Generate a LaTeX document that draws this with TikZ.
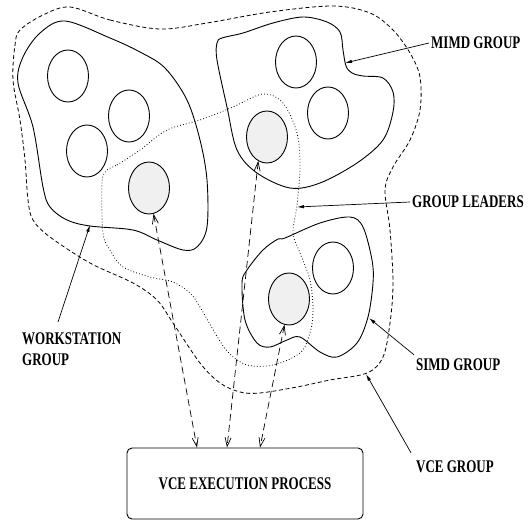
\documentclass[tikz,border=0pt]{standalone}
\usepackage{fontspec}
\newfontfamily\lblfont{Liberation Serif}[FakeStretch=0.73]
\usetikzlibrary{shapes.geometric,arrows.meta}

\tikzset{
  outline/.style={line width=0.9pt},
  vcegroup/.style={line width=0.8pt, dash pattern=on 4pt off 2.6pt},
  leaders/.style={line width=0.8pt, dash pattern=on 0.8pt off 2.2pt},
  proc/.style={ellipse, draw, line width=0.9pt, minimum width=41pt, minimum height=52pt, inner sep=0pt},
  leadproc/.style={proc, fill=gray!12},
  link/.style={line width=0.7pt, dash pattern=on 7pt off 4pt,
    {Straight Barb[length=9pt,width=6pt]}-{Straight Barb[length=9pt,width=6pt]}},
  lblfnt/.style={font=\lblfont\bfseries\fontsize{17.8}{21}\selectfont},
  lbl/.style={lblfnt, inner sep=2pt, anchor=west},
  pointer/.style={line width=0.7pt, -{Latex[length=7pt,width=3.5pt]}},
}

\begin{document}
\begin{tikzpicture}[x=1pt, y=-1pt]
\useasboundingbox (0,0) rectangle (531,522);

% VCE group boundary
\draw[vcegroup] plot[smooth cycle, tension=0.55] coordinates {
  (70,7) (110,20) (160,29) (207,23) (270,12) (333,6) (370,13) (393,30)
  (410,53) (420,77) (420,110) (410,140) (393,167) (385,190) (390,230)
  (393,283) (390,323) (383,357) (367,373) (330,380) (297,387) (260,393)
  (240,392) (220,383) (200,363) (173,323) (157,300) (133,283) (90,263)
  (50,237) (33,220) (28,200) (25,160) (20,120) (13,80) (15,45) (20,30) (43,15)};

% workstation group
\draw[outline] plot[smooth cycle, tension=0.55] coordinates {
  (65,21) (110,38) (140,52) (165,68) (187,100) (200,140) (207,180)
  (207,227) (197,247) (183,250) (157,240) (133,230) (90,226) (67,220)
  (50,207) (43,187) (33,127) (18,83) (23,57) (40,33)};

% MIMD group
\draw[outline] plot[smooth cycle, tension=0.55] coordinates {
  (222,38) (243,33) (273,23) (303,17) (327,22) (340,32) (343,50) (346,66)
  (352,73) (363,76) (383,78) (393,92) (393,112) (383,140) (357,163)
  (320,183) (290,188) (257,173) (237,150) (227,107) (217,60) (217,43)};

% SIMD group
\draw[outline] plot[smooth cycle, tension=0.55] coordinates {
  (278,239) (285,238) (320,223) (350,217) (363,227) (372,260) (373,283)
  (368,317) (357,343) (337,357) (320,352) (300,337) (287,340) (270,347)
  (257,343) (245,320) (242,283) (247,270) (263,250)};

% group leaders
\draw[leaders] plot[smooth cycle, tension=0.55] coordinates {
  (107,170) (117,165) (140,150) (167,130) (200,120) (233,107) (263,94)
  (283,103) (297,133) (300,167) (297,205) (293,233) (300,253) (310,280)
  (313,310) (310,333) (300,353) (273,365) (247,365) (228,352) (215,333)
  (200,307) (190,293) (173,282) (150,277) (123,267) (110,250) (103,233)
  (102,183)};

% processes
\node[proc] (ws1) at (68,76) {};
\node[proc] (ws2) at (129,116) {};
\node[proc] (ws3) at (87,151) {};
\node[leadproc] (wslead) at (149,188) {};
\node[proc] (mimd1) at (296,62) {};
\node[proc] (mimd2) at (328,113) {};
\node[leadproc] (mimdlead) at (267,137) {};
\node[proc] (simd1) at (333,268) {};
\node[leadproc] (simdlead) at (289,299) {};

% execution process
\node[draw, rounded corners=5pt, line width=0.9pt, minimum width=236pt,
      minimum height=71pt, inner sep=0pt, lblfnt] (vce) at (245,483.5)
      {VCE EXECUTION PROCESS};

% leader links
\draw[link] (wslead.-80) -- (197,0 |- vce.north);
\draw[link] (mimdlead.-110) -- (227,0 |- vce.north);
\draw[link] (simdlead.-100) -- (260,0 |- vce.north);

% labels
\node[lbl] (mimd-lbl) at (429,43) {MIMD GROUP};
\node[lbl] (lead-lbl) at (410,202) {GROUP LEADERS};
\node[lbl] (simd-lbl) at (414,365) {SIMD GROUP};
\node[lbl] (vce-lbl) at (414,467) {VCE GROUP};
\node[lbl, align=left] (ws-lbl) at (20,349) {WORKSTATION\\GROUP};

\coordinate (mimd-pt) at (345,63);
\coordinate (lead-pt) at (297,207);
\coordinate (simd-pt) at (369,318);
\coordinate (vce-pt) at (366,374);
\coordinate (ws-pt) at (90,225);
\coordinate (ws-tail) at (58,322);

\draw[pointer] (mimd-lbl.west) -- (mimd-pt);
\draw[pointer] (lead-lbl.west) -- (lead-pt);
\draw[pointer] ([yshift=2pt]simd-lbl.north west) -- (simd-pt);
\draw[pointer] ([shift={(-3pt,6pt)}]vce-lbl.north west) -- (vce-pt);
\draw[pointer] (ws-tail) -- (ws-pt);
\end{tikzpicture}
\end{document}
